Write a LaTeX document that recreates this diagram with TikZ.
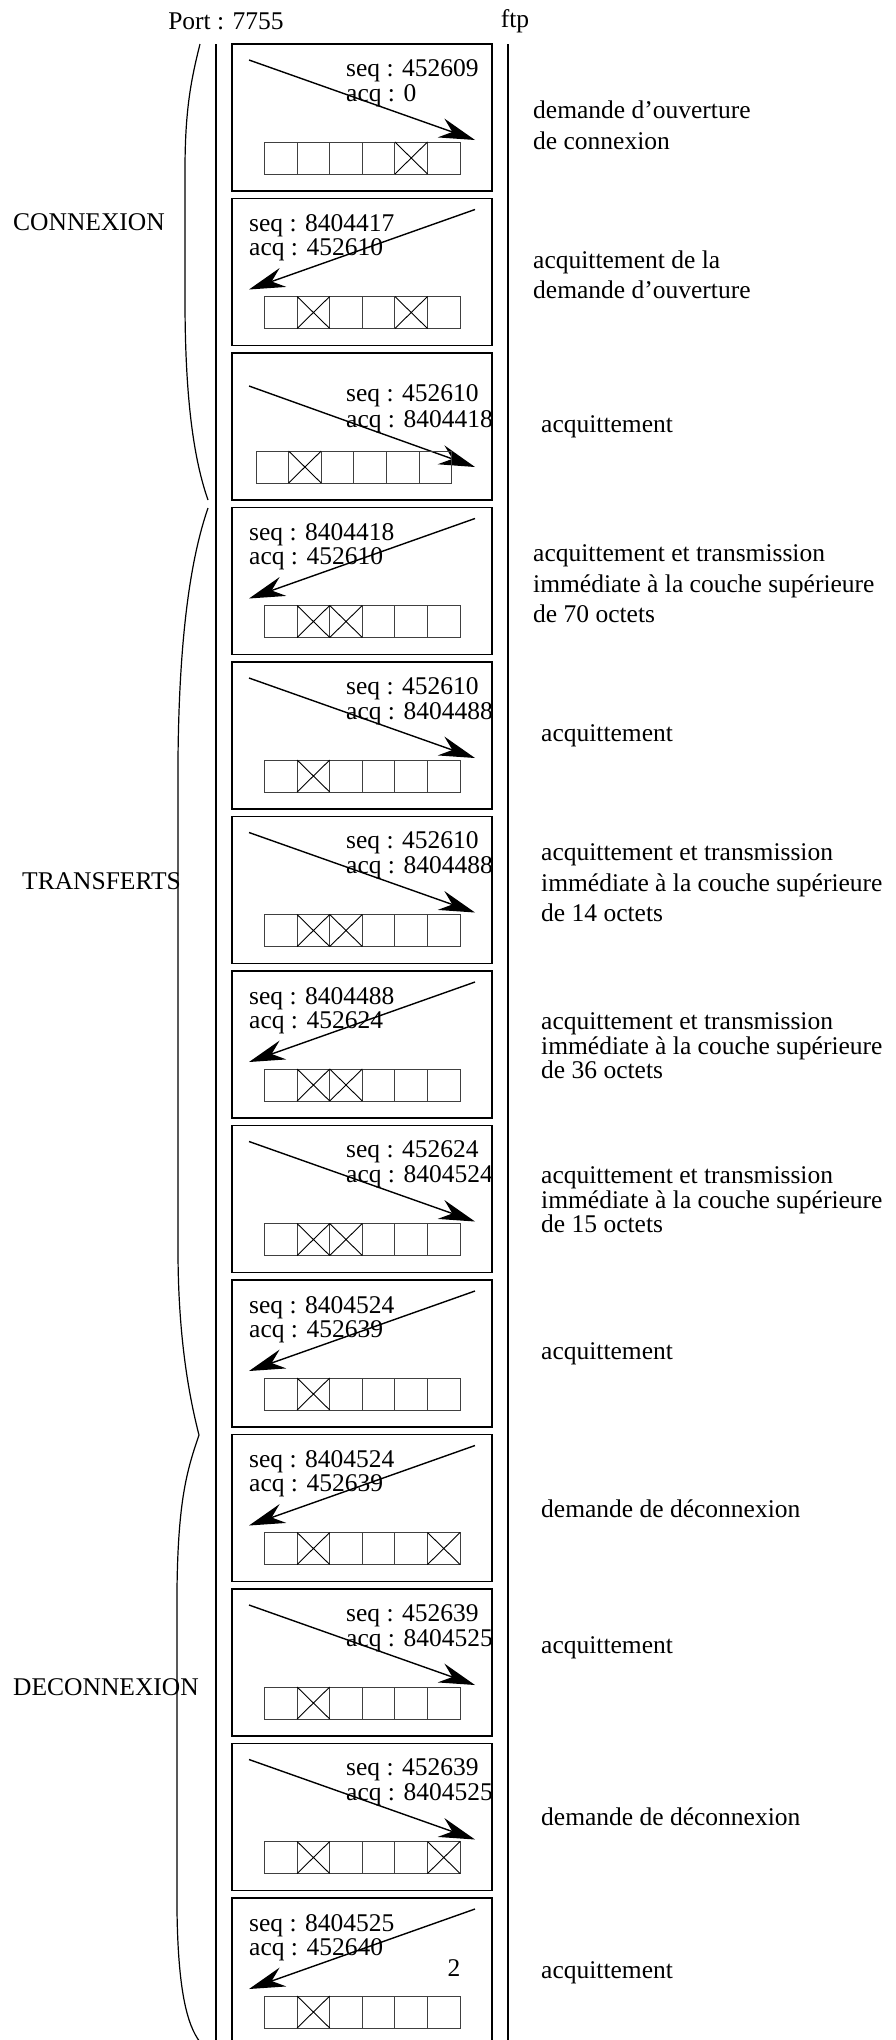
\documentclass[tikz,border=0pt]{standalone}
\usepackage{fontspec}
\setmainfont{Liberation Serif}
\usetikzlibrary{arrows.meta}
\tikzset{
 pkt/.style={draw, line width=1.6pt, minimum width=260pt, minimum height=147pt, inner sep=0pt},
 msg/.style={line width=1.4pt, -{Stealth[length=36pt,width=20pt,inset=12pt]}},
 cell/.style={line width=0.9pt, draw=black!75},
 cross/.style={line width=0.9pt},
 num/.style={font=\fontsize{25.5}{28}\selectfont, inner sep=0pt},
 lbl/.style={font=\fontsize{25.5}{30.5}\selectfont, align=left, inner sep=0pt, anchor=west},
 lbltight/.style={font=\fontsize{25.5}{24.5}\selectfont, align=left, inner sep=0pt, anchor=west},
 phase/.style={font=\fontsize{25.5}{30}\selectfont, inner sep=0pt, anchor=west},
 vline/.style={line width=1.6pt},
 brace/.style={line width=1.2pt},
}
\newcommand\cellrow[3]{%
  \foreach \i in {1,...,6} {\draw[cell] ({#2+(\i-1)*32.6},{#1+98}) rectangle ++(32.6,32);}
  \foreach \i in {#3} {\draw[cross] ({#2+(\i-1)*32.6},{#1+98}) -- ++(32.6,32) ({#2+\i*32.6},{#1+98}) -- ++(-32.6,32);}
}
\newcommand\pktR[5]{%
  \node[pkt] (#1) at (362,#2+73.5) {};
  \coordinate (#1s) at (249,#2+16);
  \coordinate (#1e) at (475,#2+96);
  \node[num, anchor=base west] (#1q) at (346,#2+32) {seq : #3};
  \node[num, anchor=base west] (#1a) at (346,#2+57) {acq : #4};
  \draw[msg] (#1s) -- (#1e);
  \cellrow{#2}{264.5}{#5}
}
\newcommand\pktL[5]{%
  \node[pkt] (#1) at (362,#2+73.5) {};
  \coordinate (#1s) at (475,#2+11);
  \coordinate (#1e) at (249,#2+91);
  \node[num, anchor=base west] (#1q) at (249,#2+33) {seq : #3};
  \node[num, anchor=base west] (#1a) at (249,#2+57) {acq : #4};
  \draw[msg] (#1s) -- (#1e);
  \cellrow{#2}{264.5}{#5}
}
\begin{document}
\begin{tikzpicture}[x=1pt,y=-1pt]
\path[use as bounding box] (0,0) rectangle (895,2040);
\clip (0,0) rectangle (895,2040);

% headers
\node[num] (port) at (226,21) {Port : 7755};
\node[num] (ftp) at (515,21) {ftp};

% vertical lines
\coordinate (lt) at (216,44); \coordinate (lb) at (216,2045);
\coordinate (rt) at (508,44); \coordinate (rb) at (508,2045);
\draw[vline] (lt) -- (lb);
\draw[vline] (rt) -- (rb);

% braces
\coordinate (ba) at (200,44);
\coordinate (bb) at (208,500);
\coordinate (bc) at (208,508);
\coordinate (bd) at (199,1435);
\coordinate (be) at (200,2042);
\draw[brace] (ba) .. controls (191,80) and (185,110) .. (185,170)
  -- (185,300) .. controls (185,400) and (194,460) .. (bb);
\draw[brace] (bc) .. controls (190,560) and (179,640) .. (178,760)
  -- (178,1250) .. controls (178,1340) and (190,1400) .. (bd)
  .. controls (187,1470) and (178,1500) .. (177,1590)
  -- (177,1910) .. controls (178,1990) and (187,2025) .. (be);

\node[phase] (con) at (13,222) {CONNEXION};
\node[phase] (tra) at (22,881) {TRANSFERTS};
\node[phase] (dec) at (13,1687) {DECONNEXION};

% packets
\pktR{b1}{44}{452609}{0}{5}
\pktL{b2}{198.5}{8404417}{452610}{2,5}
% box 3 (special offsets)
\node[pkt] (b3) at (362,353+73.5) {};
\coordinate (b3s) at (249,353+33);
\coordinate (b3e) at (475,353+114);
\node[num, anchor=base west] (b3q) at (346,353+48) {seq : 452610};
\node[num, anchor=base west] (b3a) at (346,353+74) {acq : 8404418};
\draw[msg] (b3s) -- (b3e);
\cellrow{353}{256}{2}
\pktL{b4}{507.5}{8404418}{452610}{2,3}
\pktR{b5}{662}{452610}{8404488}{2}
\pktR{b6}{816.5}{452610}{8404488}{2,3}
\pktL{b7}{971}{8404488}{452624}{2,3}
\pktR{b8}{1125.5}{452624}{8404524}{2,3}
\pktL{b9}{1280}{8404524}{452639}{2}
\pktL{b10}{1434.5}{8404524}{452639}{2,6}
\pktR{b11}{1589}{452639}{8404525}{2}
\pktR{b12}{1743.5}{452639}{8404525}{2,6}
\pktL{b13}{1898}{8404525}{452640}{2}
\node[num] (two) at (454,1968) {2};

% right labels
\node[lbl] (l1) at (533,125.5) {demande d’ouverture\\de connexion};
\node[lbl] (l2) at (533,275) {acquittement de la\\demande d’ouverture};
\node[lbl] (l3) at (541,427) {acquittement};
\node[lbl] (l4) at (533,584) {acquittement et transmission\\immédiate à la couche supérieure\\de 70 octets};
\node[lbl] (l5) at (541,736) {acquittement};
\node[lbl] (l6) at (541,883) {acquittement et transmission\\immédiate à la couche supérieure\\de 14 octets};
\node[lbltight] (l7) at (541,1046) {acquittement et transmission\\immédiate à la couche supérieure\\de 36 octets};
\node[lbltight] (l8) at (541,1200) {acquittement et transmission\\immédiate à la couche supérieure\\de 15 octets};
\node[lbl] (l9) at (541,1354) {acquittement};
\node[lbl] (l10) at (541,1509) {demande de déconnexion};
\node[lbl] (l11) at (541,1648) {acquittement};
\node[lbl] (l12) at (541,1817) {demande de déconnexion};
\node[lbl] (l13) at (541,1973) {acquittement};
\end{tikzpicture}
\end{document}
